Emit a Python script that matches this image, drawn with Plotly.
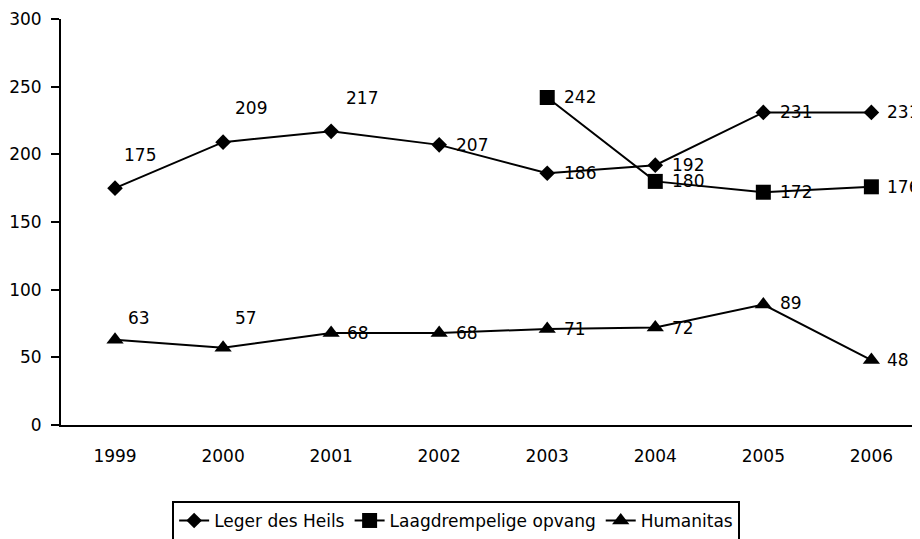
import plotly.graph_objects as go

years = ["1999", "2000", "2001", "2002", "2003", "2004", "2005", "2006"]
leger = [175, 209, 217, 207, 186, 192, 231, 231]
laag = [None, None, None, None, 242, 180, 172, 176]
humanitas = [63, 57, 68, 68, 71, 72, 89, 48]
series_names = ["Leger des Heils", "Laagdrempelige opvang", "Humanitas"]

# label placement (style only): (xshift, yshift) in pixels
leger_off = [(7, 33), (10, 34), (13, 33), (15, 0), (15, 0), (15, 0), (15, 0), (14, 0)]
laag_off = [None, None, None, None, (15, 0), (15, 0), (15, 0), (14, 0)]
hum_off = [(11, 22), (10, 30), (14, 0), (15, 0), (15, 0), (15, 0), (15, 2), (14, 0)]

FONT = "DejaVu Sans"
fig = go.Figure()
symbols = ["diamond", "square", "triangle-up"]
sizes = [12, 15, 15]
for name, vals, sym, sz in zip(series_names, [leger, laag, humanitas], symbols, sizes):
    fig.add_trace(go.Scatter(
        x=years, y=vals, name=name, mode="lines+markers",
        line=dict(color="black", width=2),
        marker=dict(symbol=sym, size=sz, color="black"),
        connectgaps=False, hoverinfo="skip"))

annotations = []
for vals, offs in [(leger, leger_off), (laag, laag_off), (humanitas, hum_off)]:
    for i, (v, o) in enumerate(zip(vals, offs)):
        if v is None:
            continue
        annotations.append(dict(
            x=i, y=v, xref="x", yref="y", text=str(v), showarrow=False,
            xanchor="left", yanchor="middle", xshift=o[0], yshift=o[1],
            font=dict(family=FONT, size=17, color="black")))

# page has an 8px body margin, so the figure is 912x531
fig.update_layout(
    width=912, height=531,
    margin=dict(l=53, r=0, t=11, b=114, autoexpand=False),
    paper_bgcolor="white", plot_bgcolor="white",
    font=dict(family=FONT, size=17, color="black"),
    showlegend=True,
    legend=dict(orientation="h", x=0.46, xanchor="center", y=-0.187, yanchor="top",
                bordercolor="black", borderwidth=2, bgcolor="white",
                font=dict(family=FONT, size=17, color="black"),
                itemclick=False, itemdoubleclick=False),
    annotations=annotations,
)
fig.update_xaxes(type="category", range=[-0.5, 7.45], showline=True, linecolor="black",
                 linewidth=2, ticks="", showgrid=False, zeroline=False, automargin=False,
                 tickfont=dict(family=FONT, size=17, color="black"), ticklabelstandoff=15)
fig.update_yaxes(range=[0, 300], dtick=50, showline=True, linecolor="black", linewidth=2,
                 ticks="outside", ticklen=8, tickwidth=2, tickcolor="black",
                 showgrid=False, zeroline=False, automargin=False,
                 tickfont=dict(family=FONT, size=17, color="black"), ticklabelstandoff=6)
fig.write_html("out.html")
